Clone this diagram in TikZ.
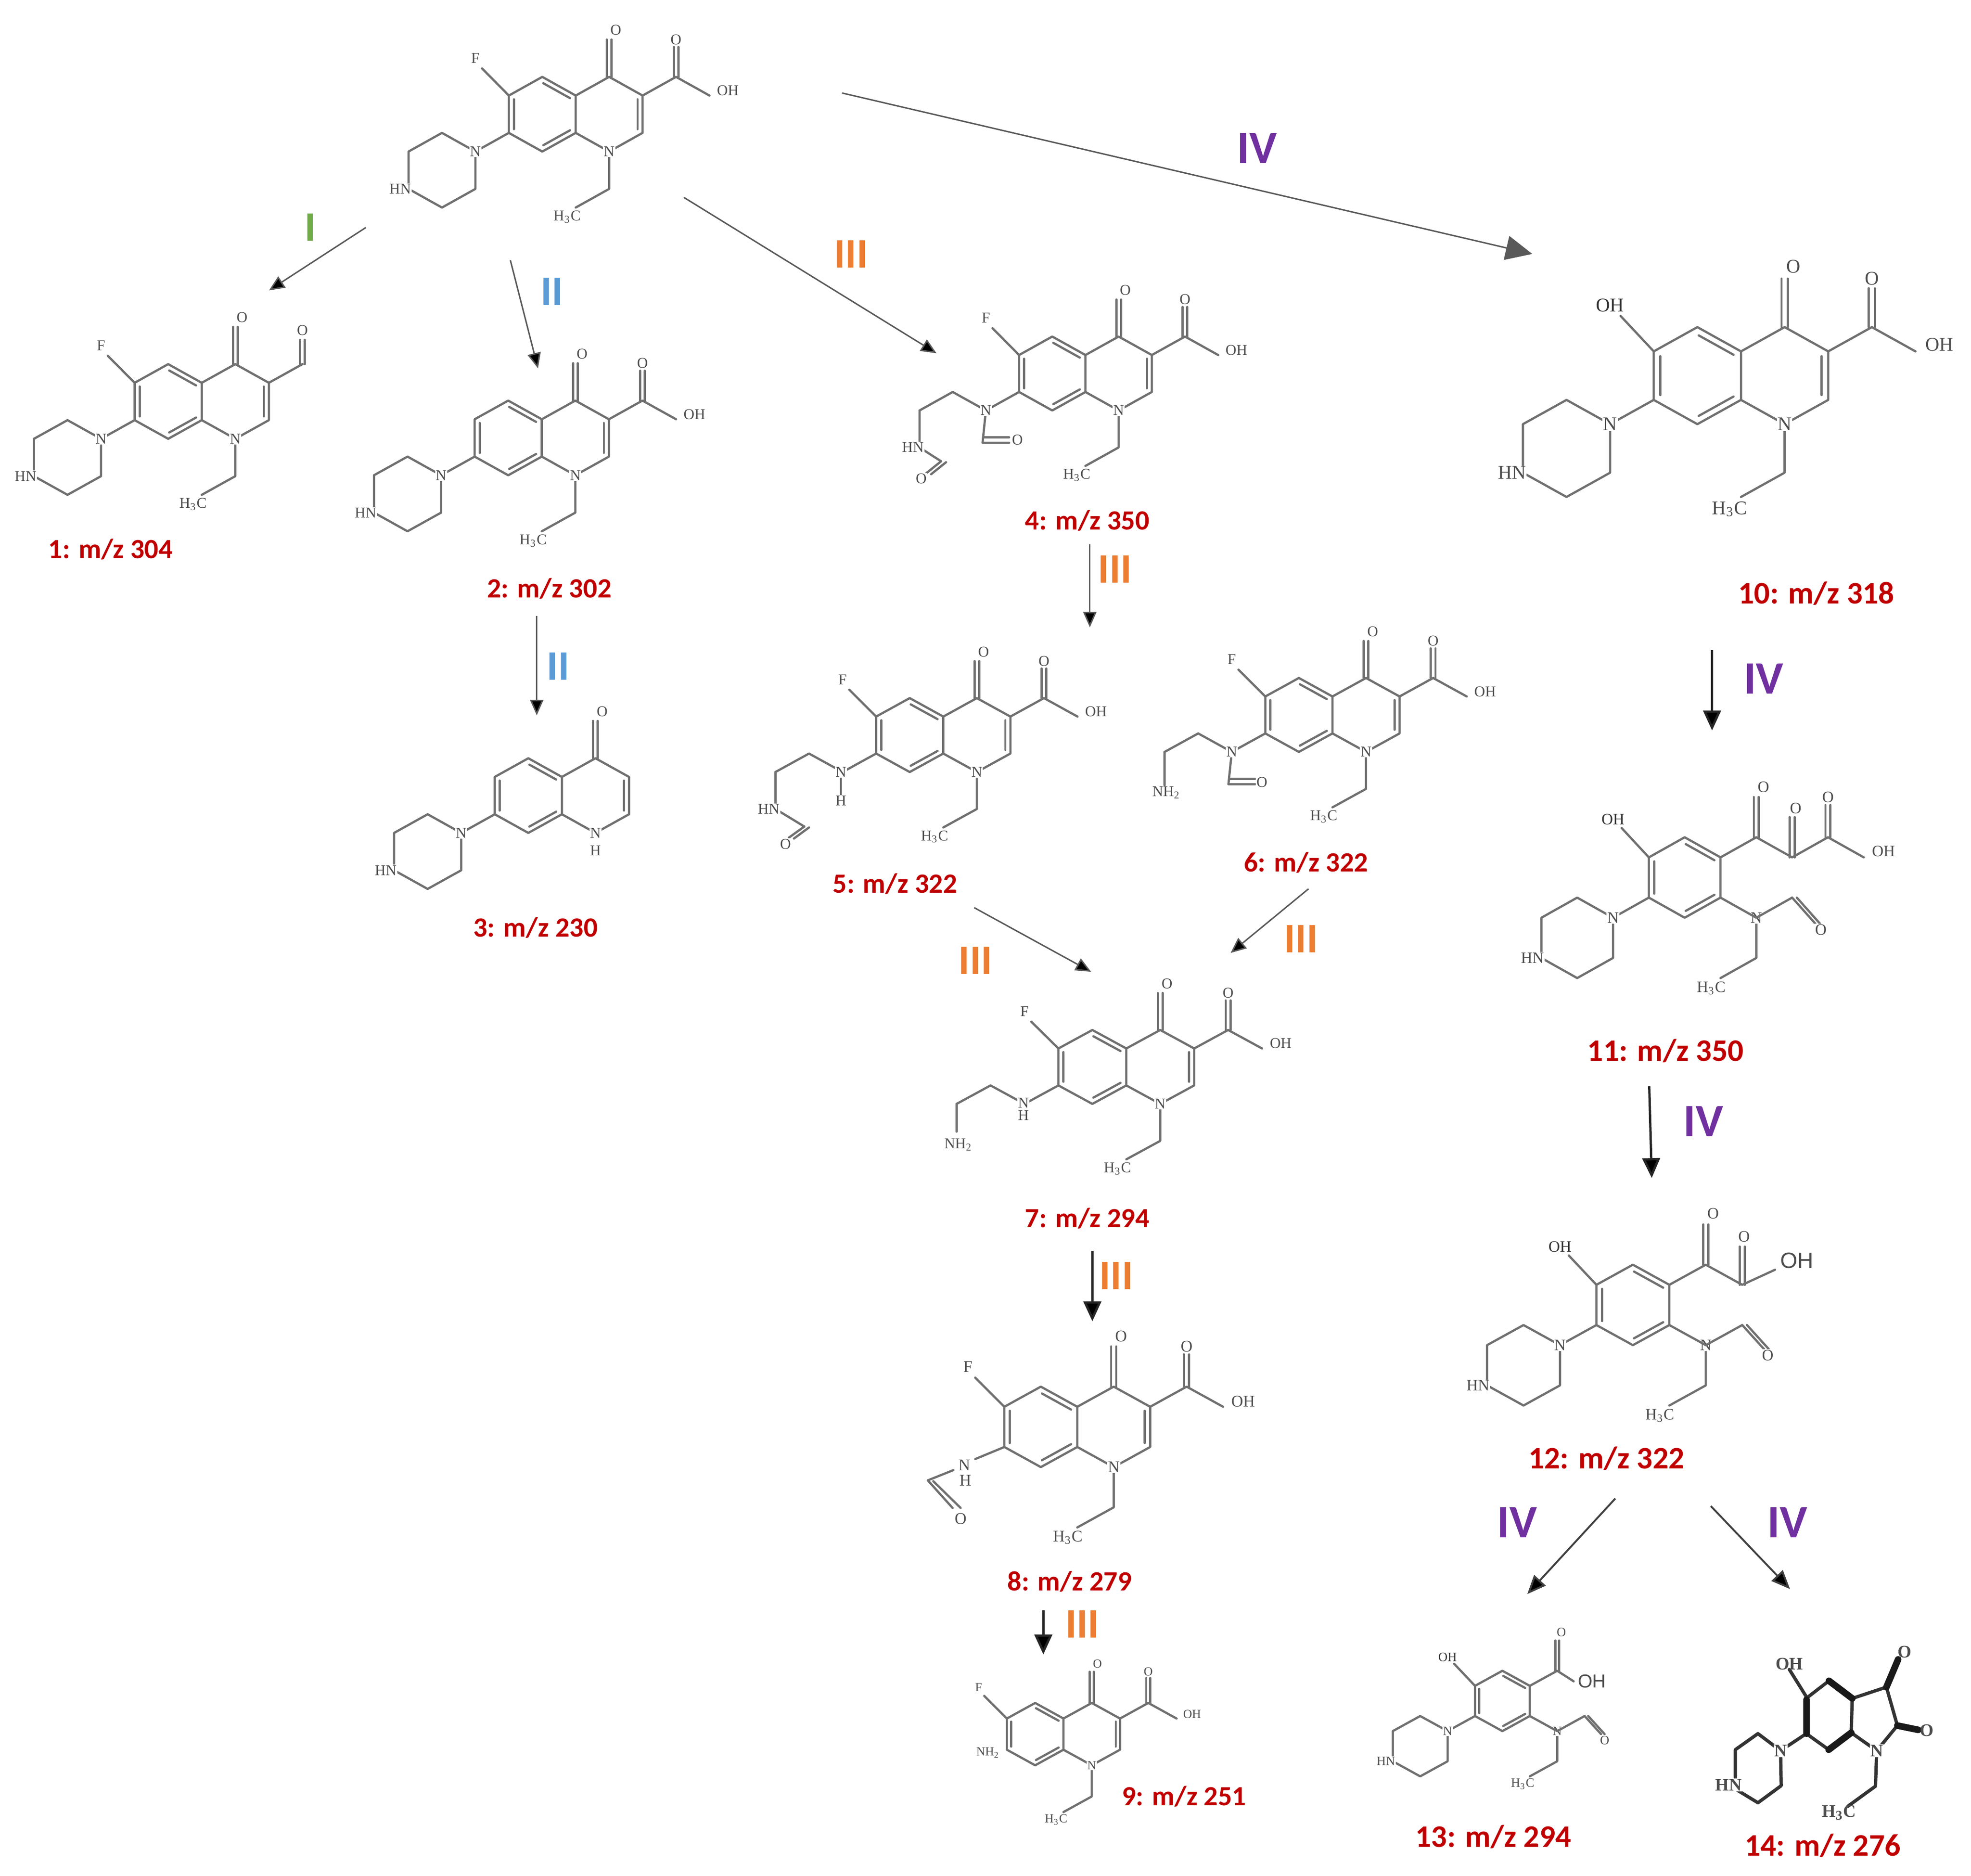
\documentclass[tikz,border=0pt]{standalone}
\usepackage{fontspec}
\setmainfont{Liberation Serif}
\newfontfamily\labfont{Carlito}
\newfontfamily\sansfont{Liberation Sans}
\usetikzlibrary{arrows.meta}
\definecolor{bondgray}{HTML}{707070}
\definecolor{atomgray}{HTML}{4D4D4D}
\definecolor{redlab}{HTML}{C00000}
\definecolor{arrowgray}{HTML}{595959}
\definecolor{romgreen}{HTML}{70AD47}
\definecolor{romblue}{HTML}{5B9BD5}
\definecolor{romorange}{HTML}{ED7D31}
\definecolor{rompurple}{HTML}{7030A0}
\def\atomsize{6.8}
\newcommand\atomfont{\fontsize{\atomsize pt}{\atomsize pt}\selectfont}
\tikzset{
  bond/.style={line width=1pt,draw=bondgray,line cap=round,line join=round},
  atom/.style={font=\atomfont,text=atomgray,fill=white,inner sep=0.3pt},
  mol/.style n args={4}{shift={(#1,#2)},x=#3*0.02cm,y=#4*0.02cm},
  cmpd/.style={font=\labfont\bfseries\fontsize{12.6pt}{13pt}\selectfont,text=redlab,inner sep=0pt},
  cmpdb/.style={font=\labfont\bfseries\fontsize{14.2pt}{15pt}\selectfont,text=redlab,inner sep=0pt},
  rom/.style={font=\labfont\bfseries\fontsize{19pt}{19pt}\selectfont,inner sep=0pt},
  romiv/.style={font=\labfont\bfseries\fontsize{21pt}{21pt}\selectfont,inner sep=0pt,text=rompurple},
  thinarrow/.style={draw=arrowgray,line width=0.65pt,-{Triangle[length=7pt,width=6pt,fill=black]}},
  midarrow/.style={draw=black!75,line width=0.85pt,-{Triangle[length=8.5pt,width=7pt,fill=black]}},
  thickarrow/.style={draw=black!85,line width=1.05pt,-{Triangle[length=9pt,width=8pt,fill=black]}},
  bigarrow/.style={draw=arrowgray,line width=0.65pt,-{Triangle[length=12pt,width=11pt,fill=arrowgray]}},
  hbond/.style={line width=1.5pt,draw=black!80,line cap=round,line join=round},
  hwedge/.style={line width=3pt,draw=black!90,line cap=round},
  hatom/.style={font=\bfseries\fontsize{8pt}{8pt}\selectfont,text=black!70,fill=white,inner sep=0.3pt},
}
\newcommand\ringA{%
  \draw[bond] (-1,1)--(0,0)--(0,-2)--(-1,-3)--(-2,-2)--(-2,0)--cycle;
  \draw[bond] (-0.97,0.66)--(-0.17,-0.14);
  \draw[bond] (-1.85,-0.2)--(-1.85,-1.8);
  \draw[bond] (-0.97,-2.66)--(-0.17,-1.86);}
\newcommand\ringB{%
  \draw[bond] (0,0)--(1,1)--(2,0)--(2,-2)--(1,-3)--(0,-2);
  \draw[bond] (1.85,-0.2)--(1.85,-1.8);}
\newcommand\dbl[3]{%
  \draw[bond] (#1-0.07,#2)--(#1-0.07,#3);
  \draw[bond] (#1+0.07,#2)--(#1+0.07,#3);}
\newcommand\ketone[1]{\dbl{1}{1}{3}\node[atom] (#1-o4) at (1.2,3.5) {O};}
\newcommand\acid[1]{%
  \draw[bond] (2,0)--(3,1)--(4,0);
  \dbl{3}{1}{2.6}
  \node[atom] (#1-o) at (3,3) {O};
  \node[atom,fill=none] (#1-oh) at (4.55,0.27) {OH};}
\newcommand\piper[1]{%
  \draw[bond] (-2,-2)--(-3,-3);
  \draw[bond] (-3,-3)--(-4,-2)--(-5,-3)--(-5,-5)--(-4,-6)--(-3,-5)--cycle;
  \node[atom] (#1-np) at (-3,-3) {N};
  \node[atom] (#1-hn) at (-5.25,-5) {HN};}
\newcommand\ethyl[1]{%
  \draw[bond] (1,-3)--(1,-5)--(0,-6);
  \node[atom] (#1-n1) at (1,-3) {N};
  \node[atom,fill=none] (#1-me) at (-0.26,-6.5) {H\textsubscript{3}C};}
\newcommand\fluoro[1]{%
  \draw[bond] (-2,0)--(-2.8,1.45);
  \node[atom,fill=none] (#1-f) at (-3,2) {F};}
\newcommand\hydroxy[1]{%
  \draw[bond] (-2,0)--(-2.76,1.46);
  \node[atom,fill=none,text=black!80] (#1-oh6) at (-3,1.9) {OH};}
\newcommand\core[1]{\ringA\ringB\ketone{#1}\acid{#1}\ethyl{#1}}
\newcommand\chainN{\draw[bond] (-2,-2)--(-3,-3)--(-4,-2)--(-5,-3);}
\begin{document}
\begin{tikzpicture}[x=0.02cm,y=-0.02cm]
\useasboundingbox (0,0) rectangle (1568,1492);
\fill[white] (0,0) rectangle (1568,1492);

% parent
\begin{scope}[mol={458}{76}{26.6}{14.85}]
  \core{m0}\fluoro{m0}\piper{m0}
\end{scope}
% 1
\begin{scope}[mol={160.5}{304.5}{26.7}{14.85}]
  \ringA\ringB\ketone{m1}\ethyl{m1}\fluoro{m1}\piper{m1}
  \draw[bond] (2,0)--(3,1);
  \dbl{3}{1}{2.3}
  \node[atom] (m1-cho) at (3,2.8) {O};
\end{scope}
% 2
\begin{scope}[mol={431}{333.5}{26.7}{14.85}]
  \core{m2}\piper{m2}
\end{scope}
% 3
\begin{scope}[mol={447}{618}{26.7}{14.85}]
  \ringA\ketone{m3}\piper{m3}
  \draw[bond] (0,0)--(1,1)--(2,0)--(2,-2)--(1,-3)--(0,-2);
  \draw[bond] (1.85,-0.2)--(1.85,-1.8);
  \node[atom] (m3-n) at (1,-3) {N};
  \node[atom] (m3-h) at (1,-3.95) {H};
\end{scope}
% 4
\begin{scope}[mol={863.5}{282.4}{26.4}{14.7}]
  \core{m4}\fluoro{m4}\chainN
  \draw[bond] (-5,-3)--(-5,-5)--(-4.35,-5.75);
  \draw[bond] (-4.35,-5.75)--(-4.8,-6.4);
  \draw[bond] (-4.2,-5.8)--(-4.65,-6.45);
  \draw[bond] (-3,-3)--(-3.1,-4.75)--(-2.3,-4.75);
  \draw[bond] (-3.05,-4.45)--(-2.3,-4.45);
  \node[atom] (m4-n) at (-3,-3) {N};
  \node[atom] (m4-o2) at (-2.05,-4.6) {O};
  \node[atom] (m4-hn) at (-5.2,-5) {HN};
  \node[atom] (m4-o3) at (-4.95,-6.7) {O};
\end{scope}
% 5
\begin{scope}[mol={750.4}{570}{26.7}{14.7}]
  \core{m5}\fluoro{m5}\chainN
  \draw[bond] (-3.05,-3)--(-3.05,-4.3);
  \draw[bond] (-5,-3)--(-5,-5)--(-4.14,-5.95);
  \draw[bond] (-4.14,-5.95)--(-4.6,-6.55);
  \draw[bond] (-4,-6)--(-4.45,-6.6);
  \node[atom] (m5-n) at (-3.05,-3) {N};
  \node[atom] (m5-h) at (-3.05,-4.56) {H};
  \node[atom] (m5-hn) at (-5.2,-5) {HN};
  \node[atom] (m5-o) at (-4.7,-6.9) {O};
\end{scope}
% 6
\begin{scope}[mol={1060}{554}{26.7}{14.7}]
  \core{m6}\fluoro{m6}\chainN
  \draw[bond] (-5,-3)--(-5,-4.8);
  \draw[bond] (-3,-3)--(-3.1,-4.75)--(-2.3,-4.75);
  \draw[bond] (-3.05,-4.45)--(-2.3,-4.45);
  \node[atom] (m6-n) at (-3,-3) {N};
  \node[atom] (m6-o2) at (-2.1,-4.65) {O};
  \node[atom] (m6-nh) at (-4.95,-5.2) {NH\textsubscript{2}};
\end{scope}
% 7
\begin{scope}[mol={896}{834}{27}{14.7}]
  \core{m7}\fluoro{m7}\chainN
  \draw[bond] (-5,-3)--(-5,-4.5);
  \node[atom] (m7-n) at (-3.03,-2.95) {N};
  \node[atom,fill=none] (m7-h) at (-3.03,-3.62) {H};
  \node[atom] (m7-nh) at (-4.95,-5.2) {NH\textsubscript{2}};
\end{scope}
% 8
\begin{scope}[mol={857}{1119}{29}{16}]
  \def\atomsize{7.4}
  \core{m8}\fluoro{m8}
  \draw[bond] (-2,-2)--(-2.8,-2.6);
  \draw[bond] (-3.4,-3.15)--(-4.1,-3.66);
  \draw[bond] (-4.1,-3.66)--(-3.42,-5.03);
  \draw[bond] (-3.95,-3.7)--(-3.2,-5.03);
  \node[atom,fill=none] (m8-n) at (-3.1,-2.9) {N};
  \node[atom,fill=none] (m8-h) at (-3.07,-3.67) {H};
  \node[atom] (m8-o) at (-3.2,-5.56) {O};
\end{scope}
% 9
\begin{scope}[mol={846}{1367}{22.5}{12.4}]
  \def\atomsize{5.6}
  \core{m9}\fluoro{m9}
  \node[atom] (m9-nh) at (-2.67,-2.2) {NH\textsubscript{2}};
\end{scope}
% 10
\begin{scope}[mol={1385}{279.5}{34.7}{19.3}]
  \def\atomsize{8.8}
  \core{m10}\hydroxy{m10}\piper{m10}
\end{scope}
% 11
\begin{scope}[mol={1368.7}{682}{28.5}{16}]
  \def\atomsize{7.2}
  \ringA\piper{m11}\hydroxy{m11}\ethyl{m11}
  \draw[bond] (0,0)--(1,1)--(2,0)--(3,1)--(4,0);
  \draw[bond] (0,-2)--(1,-3)--(2,-2);
  \draw[bond] (2,-2)--(2.65,-3.3);
  \draw[bond] (2.13,-2)--(2.78,-3.3);
  \dbl{1}{1}{3}\dbl{2}{0}{2}\dbl{3}{1}{2.6}
  \node[atom] (m11-o1) at (1.2,3.5) {O};
  \node[atom] (m11-o2) at (2.1,2.45) {O};
  \node[atom] (m11-o3) at (3,3) {O};
  \node[atom,fill=none] (m11-oh) at (4.55,0.3) {OH};
  \node[atom] (m11-o4) at (2.8,-3.6) {O};
\end{scope}
% 12
\begin{scope}[mol={1328}{1022}{29}{16}]
  \def\atomsize{7.2}
  \ringA\piper{m12}\hydroxy{m12}\ethyl{m12}
  \draw[bond] (0,0)--(1,1)--(2,0)--(2.9,0.75);
  \draw[bond] (0,-2)--(1,-3)--(2,-2);
  \draw[bond] (2,-2)--(2.6,-3.2);
  \draw[bond] (2.13,-2)--(2.73,-3.2);
  \dbl{1}{1}{3}\dbl{2}{0}{1.9}
  \node[atom] (m12-o1) at (1.2,3.55) {O};
  \node[atom] (m12-o2) at (2.05,2.4) {O};
  \node[atom,fill=none,font=\sansfont\fontsize{10pt}{10pt}\selectfont] (m12-oh) at (3.5,1.2) {OH};
  \node[atom] (m12-o4) at (2.7,-3.5) {O};
\end{scope}
% 13
\begin{scope}[mol={1217}{1341}{21.8}{12}]
  \def\atomsize{5.8}
  \ringA\piper{m13}\hydroxy{m13}\ethyl{m13}
  \draw[bond] (0,0)--(1,1)--(1.6,0.3);
  \draw[bond] (0,-2)--(1,-3)--(2,-2);
  \draw[bond] (2,-2)--(2.6,-3.2);
  \draw[bond] (2.13,-2)--(2.73,-3.2);
  \dbl{1}{1}{3}
  \node[atom] (m13-o1) at (1.15,3.55) {O};
  \node[atom,fill=none,font=\sansfont\fontsize{8.5pt}{8.5pt}\selectfont] (m13-oh) at (2.27,0.3) {OH};
  \node[atom] (m13-o4) at (2.73,-3.6) {O};
\end{scope}
% 14
\draw[hbond] (1437.5,1350.5)--(1455,1337);
\draw[hbond] (1473.5,1351)--(1472.7,1378.3)--(1493,1392.6)--(1509.4,1372.6)--(1500.7,1342)--(1473.5,1351);
\draw[hbond] (1472.7,1378.3)--(1454.8,1391.8)--(1437,1379)--(1416.5,1392.6)--(1398.5,1379)--(1380.5,1391.8)--(1380.5,1414);
\draw[hbond] (1375,1419.7)--(1398.5,1434)--(1417,1420.4)--(1416.5,1392.6);
\draw[hbond] (1437.5,1350.5)--(1423.5,1328);
\draw[hbond] (1493,1392.6)--(1492,1420.8)--(1470,1436.8);
\draw[hwedge] (1437.2,1352)--(1437.2,1379);
\draw[hwedge] (1455,1337)--(1473.5,1351);
\draw[hwedge] (1472.7,1378.3)--(1454.8,1391.8);
\draw[hwedge] (1500.7,1342)--(1510,1320);
\draw[hwedge] (1509.4,1372.6)--(1526,1376);
\node[hatom,fill=none] (m14-oh) at (1423.5,1323.6) {OH};
\node[hatom,fill=none] (m14-o1) at (1515.3,1314) {O};
\node[hatom,fill=none] (m14-o2) at (1532.8,1376.5) {O};
\node[hatom] (m14-np) at (1416.5,1392.6) {N};
\node[hatom] (m14-n1) at (1493,1392.6) {N};
\node[hatom] (m14-hn) at (1375,1419.7) {HN};
\node[hatom,fill=none] (m14-me) at (1463,1442) {H\textsubscript{3}C};

% compound labels
\node[cmpd] (c1) at (88,437) {1: m/z 304};
\node[cmpd] (c2) at (437,468) {2: m/z 302};
\node[cmpd] (c3) at (426,738) {3: m/z 230};
\node[cmpd] (c4) at (865,414) {4: m/z 350};
\node[cmpd] (c5) at (712,703) {5: m/z 322};
\node[cmpd] (c6) at (1039,686) {6: m/z 322};
\node[cmpd] (c7) at (865,969) {7: m/z 294};
\node[cmpd] (c8) at (851,1258) {8: m/z 279};
\node[cmpd] (c9) at (942,1429) {9: m/z 251};
\node[cmpdb] (c10) at (1445,472) {10: m/z 318};
\node[cmpdb] (c11) at (1325,836) {11: m/z 350};
\node[cmpdb] (c12) at (1278,1160) {12: m/z 322};
\node[cmpdb] (c13) at (1188,1461) {13: m/z 294};
\node[cmpdb] (c14) at (1450,1468) {14: m/z 276};

% pathway labels
\node[rom,text=romgreen] (r1) at (247,181) {I};
\node[rom,text=romblue] (r2a) at (439,232) {II};
\node[rom,text=romblue] (r2b) at (444,530) {II};
\node[rom,text=romorange] (r3a) at (677,202) {III};
\node[rom,text=romorange] (r3b) at (887,453) {III};
\node[rom,text=romorange] (r3c) at (776,764) {III};
\node[rom,text=romorange] (r3d) at (1035,747) {III};
\node[rom,text=romorange] (r3e) at (888,1015) {III};
\node[rom,text=romorange] (r3f) at (861,1292) {III};
\node[romiv] (r4a) at (1000,118) {IV};
\node[romiv] (r4b) at (1403,540) {IV};
\node[romiv] (r4c) at (1355,892) {IV};
\node[romiv] (r4d) at (1207,1211) {IV};
\node[romiv] (r4e) at (1422,1211) {IV};

% connector ends
\coordinate (a1s) at (291,181); \coordinate (a1e) at (214,231);
\coordinate (a2s) at (406,207); \coordinate (a2e) at (428,293);
\coordinate (a3s) at (544,157); \coordinate (a3e) at (745,281);
\coordinate (a4s) at (670,74);  \coordinate (a4e) at (1219,202);
\coordinate (a5s) at (427,490); \coordinate (a5e) at (427,569);
\coordinate (a6s) at (867,433); \coordinate (a6e) at (867,499);
\coordinate (a7s) at (775,722); \coordinate (a7e) at (868,773);
\coordinate (a8s) at (1041,707);\coordinate (a8e) at (979,758);
\coordinate (a9s) at (869,995); \coordinate (a9e) at (869,1051);
\coordinate (a10s) at (830,1281);\coordinate (a10e) at (830,1316);
\coordinate (a11s) at (1362,517);\coordinate (a11e) at (1362,581);
\coordinate (a12s) at (1312,864);\coordinate (a12e) at (1314,937);
\coordinate (a13s) at (1285,1192);\coordinate (a13e) at (1215,1268);
\coordinate (a14s) at (1361,1198);\coordinate (a14e) at (1424,1264);
\draw[thinarrow] (a1s)--(a1e);
\draw[thinarrow] (a2s)--(a2e);
\draw[thinarrow] (a3s)--(a3e);
\draw[bigarrow] (a4s)--(a4e);
\draw[thinarrow] (a5s)--(a5e);
\draw[thinarrow] (a6s)--(a6e);
\draw[thinarrow] (a7s)--(a7e);
\draw[thinarrow] (a8s)--(a8e);
\draw[thickarrow] (a9s)--(a9e);
\draw[thickarrow] (a10s)--(a10e);
\draw[thickarrow] (a11s)--(a11e);
\draw[thickarrow] (a12s)--(a12e);
\draw[midarrow] (a13s)--(a13e);
\draw[midarrow] (a14s)--(a14e);
\end{tikzpicture}
\end{document}
